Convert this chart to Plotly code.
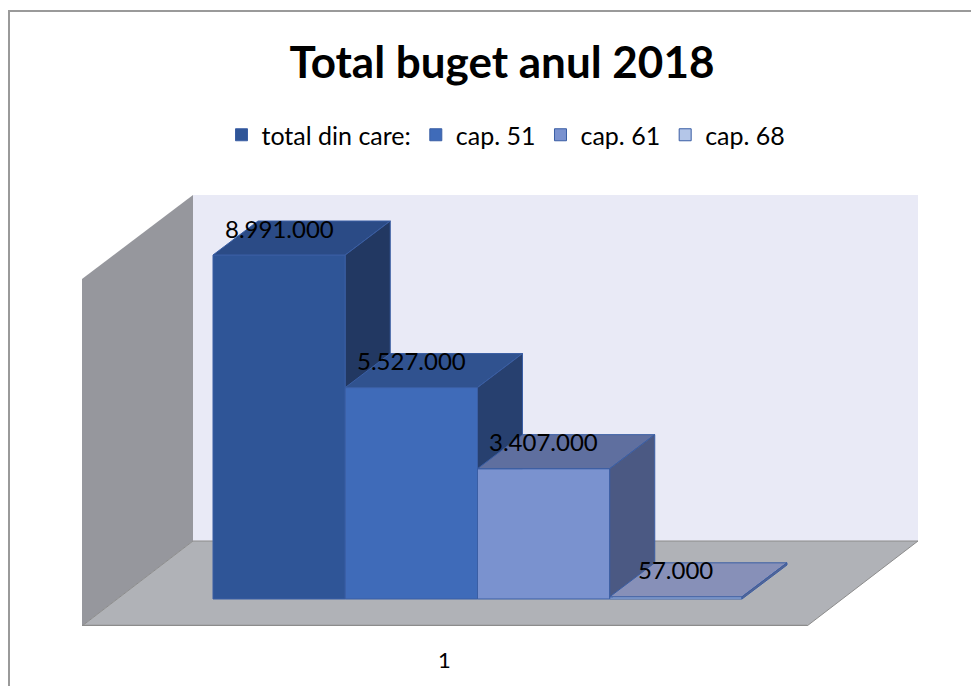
import plotly.graph_objects as go

# ---------------- data ----------------
chart_title = "Total buget anul 2018"
series = ["total din care:", "cap. 51", "cap. 61", "cap. 68"]
values = [8991000, 5527000, 3407000, 57000]
value_labels = ["8.991.000", "5.527.000", "3.407.000", "57.000"]
category_label = "1"

# ---------------- styles ----------------
front_colors = ["#2F5597", "#3F6BB9", "#7A92CF", "#B4C6E8"]
top_colors = ["#2B4B86", "#30528F", "#5F6F9F", "#8790B8"]
side_colors = ["#223862", "#27406F", "#4B5983", "#5A6690"]
edge_color = "#3A5EA4"
FONT = "Lato"

SHIFT = 8                      # page body margin compensation
W, H = 979 - SHIFT, 686 - SHIFT
# calibration between pixel layout (reference px) and axis units
X0PX, UNITPX = 213.0, 132.25      # left edge of first bar, px per bar slot
BASEPX, KPX = 599.0, 38.26e-6     # baseline px, px per value unit
PL, PR, PT, PB = 82, 918, 195, 626  # plot area in reference px


def px2x(p):
    return (p - X0PX) / UNITPX


def px2y(p):
    return (BASEPX - p) / KPX


DX = 45 / UNITPX   # bar depth offset (x units)
DY = 34 / KPX      # bar depth offset (value units)


def clip_above(poly, c):
    """keep part of polygon with y >= c"""
    out = []
    n = len(poly)
    for i in range(n):
        p, q = poly[i], poly[(i + 1) % n]
        pin, qin = p[1] >= c, q[1] >= c
        if pin:
            out.append(p)
        if pin != qin:
            t = (c - p[1]) / (q[1] - p[1])
            out.append((p[0] + t * (q[0] - p[0]), c))
    return out


fig = go.Figure()

# front faces as real bars
for i, (name, v) in enumerate(zip(series, values)):
    fig.add_trace(go.Bar(
        x=[i + 0.5], y=[v], width=1, name=name,
        marker=dict(color=front_colors[i], line=dict(color=edge_color, width=1)),
        hoverinfo="skip", showlegend=True,
    ))

# top and side faces, drawn left to right
for i, v in enumerate(values):
    xl, xr = i, i + 1
    top = [(xl, v), (xr, v), (xr + DX, v + DY), (xl + DX, v + DY)]
    side = [(xr, 0), (xr, v), (xr + DX, v + DY), (xr + DX, DY)]
    if i + 1 < len(values):
        side = clip_above(side, values[i + 1])
    for poly, col in ((top, top_colors[i]), (side, side_colors[i])):
        if len(poly) < 3:
            continue
        xs = [p[0] for p in poly] + [poly[0][0]]
        ys = [p[1] for p in poly] + [poly[0][1]]
        fig.add_trace(go.Scatter(
            x=xs, y=ys, mode="lines", fill="toself", fillcolor=col,
            line=dict(color=edge_color, width=1), hoverinfo="skip",
            showlegend=False,
        ))
    fig.add_annotation(
        x=i + 0.5, y=v + 27 / KPX, text=value_labels[i], showarrow=False,
        font=dict(family=FONT, size=24, color="black"),
        xanchor="center", yanchor="middle",
    )

# chart walls & floor (decorations)
def path(pts):
    return "M " + " L ".join(f"{px2x(a)},{px2y(b)}" for a, b in pts) + " Z"

shapes = [
    dict(type="path", path=path([(193, 195), (918, 195), (918, 541), (193, 541)]),
         fillcolor="#E9EAF6", line=dict(width=0), layer="below"),
    dict(type="path", path=path([(82, 279), (193, 195), (193, 541), (82, 626)]),
         fillcolor="#96979D", line=dict(width=0), layer="below"),
    dict(type="path", path=path([(82, 626), (807, 626), (918, 541), (193, 541)]),
         fillcolor="#B0B2B7", line=dict(color="#8C8C8C", width=1), layer="below"),
    dict(type="line", x0=px2x(82), y0=px2y(626), x1=px2x(807), y1=px2y(626),
         line=dict(color="#8C8C8C", width=2.5), layer="below"),
    # outer chart border
    dict(type="rect", xref="paper", yref="paper",
         x0=(9 - PL) / (PR - PL), x1=(995 - PL) / (PR - PL),
         y0=(PB - 700) / (PB - PT), y1=(PB - 11) / (PB - PT),
         line=dict(color="#9A9A9A", width=2), fillcolor="rgba(0,0,0,0)"),
]

fig.add_annotation(
    x=px2x(444), xref="x", y=(PB - 659) / (PB - PT), yref="paper",
    text=category_label, showarrow=False,
    font=dict(family=FONT, size=22, color="black"),
    xanchor="center", yanchor="middle",
)

fig.update_layout(
    width=W, height=H,
    margin=dict(l=PL - SHIFT, r=W - (PR - SHIFT), t=PT - SHIFT, b=H - (PB - SHIFT)),
    paper_bgcolor="white", plot_bgcolor="rgba(0,0,0,0)",
    barmode="overlay",
    shapes=shapes,
    title=dict(text=chart_title, x=(502 - SHIFT) / W, xanchor="center",
               y=1 - (63 - SHIFT) / H, yanchor="middle",
               font=dict(family=FONT, size=44, color="black", weight="bold")),
    legend=dict(orientation="h", x=(506 - PL) / (PR - PL), xanchor="center",
                y=(PB - 135) / (PB - PT), yanchor="middle",
                font=dict(family=FONT, size=25, color="black"),
                bgcolor="rgba(0,0,0,0)"),
    xaxis=dict(range=[px2x(PL), px2x(PR)], visible=False, fixedrange=True),
    yaxis=dict(range=[px2y(PB), px2y(PT)], visible=False, fixedrange=True),
    showlegend=True,
)

fig.write_html("out.html")
